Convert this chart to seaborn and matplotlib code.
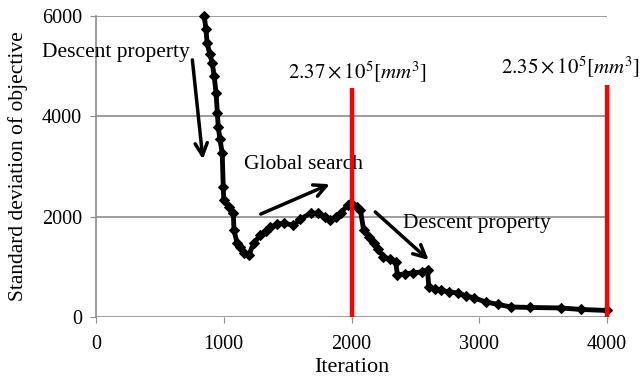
import numpy as np
import pandas as pd
import matplotlib
matplotlib.use("Agg")
import matplotlib.pyplot as plt
import seaborn as sns

# values
iterations = [847, 860, 870, 890, 910, 925, 940, 950, 957, 970, 988, 996, 1000,
              1040, 1075, 1080, 1105, 1130, 1155, 1195, 1235, 1285, 1330, 1365,
              1420, 1470, 1545, 1600, 1680, 1735, 1790, 1835, 1880, 1915, 1970,
              1995, 2040, 2070, 2095, 2140, 2175, 2210, 2250, 2300, 2345, 2360,
              2420, 2485, 2550, 2595, 2605, 2650, 2700, 2760, 2830, 2900, 2960,
              3050, 3150, 3245, 3400, 3640, 3800, 4000]
std_obj = [6000, 5750, 5458, 5250, 5060, 4800, 4460, 4060, 3785, 3550, 3267,
           2590, 2330, 2200, 2070, 1730, 1470, 1400, 1270, 1230, 1470, 1630,
           1720, 1790, 1850, 1870, 1830, 1950, 2070, 2070, 2000, 1930, 2000,
           2070, 2230, 2270, 2200, 2130, 1730, 1600, 1470, 1350, 1200, 1150,
           1100, 840, 860, 880, 900, 940, 600, 560, 540, 500, 480, 420, 380,
           300, 250, 200, 190, 180, 150, 130]

volume_iters = [2000, 4000]
volume_tops = [4560, 4620]
volume_labels = [r"$2.37\times10^5[mm^3]$", r"$2.35\times10^5[mm^3]$"]

xticks = [0, 1000, 2000, 3000, 4000]
yticks = [0, 2000, 4000, 6000]

sns.set_style("white")
plt.rcParams["font.family"] = ["Liberation Serif", "DejaVu Serif"]
plt.rcParams["mathtext.fontset"] = "stix"
plt.rcParams["text.color"] = "black"
plt.rcParams["axes.labelcolor"] = "black"

df = pd.DataFrame({"Iteration": iterations, "std": std_obj})

fig = plt.figure(figsize=(6.43, 3.8), dpi=100)
ax = fig.add_axes([96 / 643, 1 - 317 / 380, 511 / 643, 301 / 380])

# gray horizontal gridlines, Excel style
for yv in yticks:
    ax.axhline(yv, color="#8c8c8c", lw=1.2, zorder=0)

sns.lineplot(data=df, x="Iteration", y="std", ax=ax, color="black", lw=3.5,
             marker="D", markersize=5.5, markeredgecolor="black", clip_on=False,
             zorder=3)

# red volume markers
ax.vlines(volume_iters, 0, volume_tops, colors="#ff0000", lw=3.2, zorder=4,
          clip_on=False)
ax.text(2047, 4880, volume_labels[0], ha="center", va="center", fontsize=15)
ax.text(3718, 4980, volume_labels[1], ha="center", va="center", fontsize=15,
        clip_on=False)

arrow = dict(arrowstyle="->", lw=2.5, color="black", mutation_scale=22)
ax.annotate("", xy=(839, 3090), xytext=(752, 5180), arrowprops=arrow)
ax.annotate("", xy=(1850, 2670), xytext=(1270, 2030), arrowprops=arrow)
ax.annotate("", xy=(2620, 1100), xytext=(2170, 2130), arrowprops=arrow)
ax.text(-425, 5280, "Descent property", ha="left", va="center", fontsize=15.5,
        clip_on=False)
ax.text(1160, 3030, "Global search", ha="left", va="center", fontsize=15.5)
ax.text(2400, 1870, "Descent property", ha="left", va="center", fontsize=15.5)

ax.set_xlim(0, 4000)
ax.set_ylim(0, 6000)
ax.set_xticks(xticks)
ax.set_yticks(yticks)
ax.tick_params(labelsize=14.5, labelcolor="black", length=4, color="#8c8c8c",
               direction="out")
ax.tick_params(axis="x", bottom=True, pad=9)
ax.tick_params(axis="y", left=True, pad=6)
for s in ["top", "right", "bottom"]:
    ax.spines[s].set_visible(False)
ax.spines["left"].set_color("#8c8c8c")
ax.spines["left"].set_linewidth(1.2)
ax.set_xlabel("Iteration", fontsize=16, labelpad=3)
ax.set_ylabel("Standard deviation of objective", fontsize=15.5, labelpad=10)

fig.savefig("out.png", dpi=100)
